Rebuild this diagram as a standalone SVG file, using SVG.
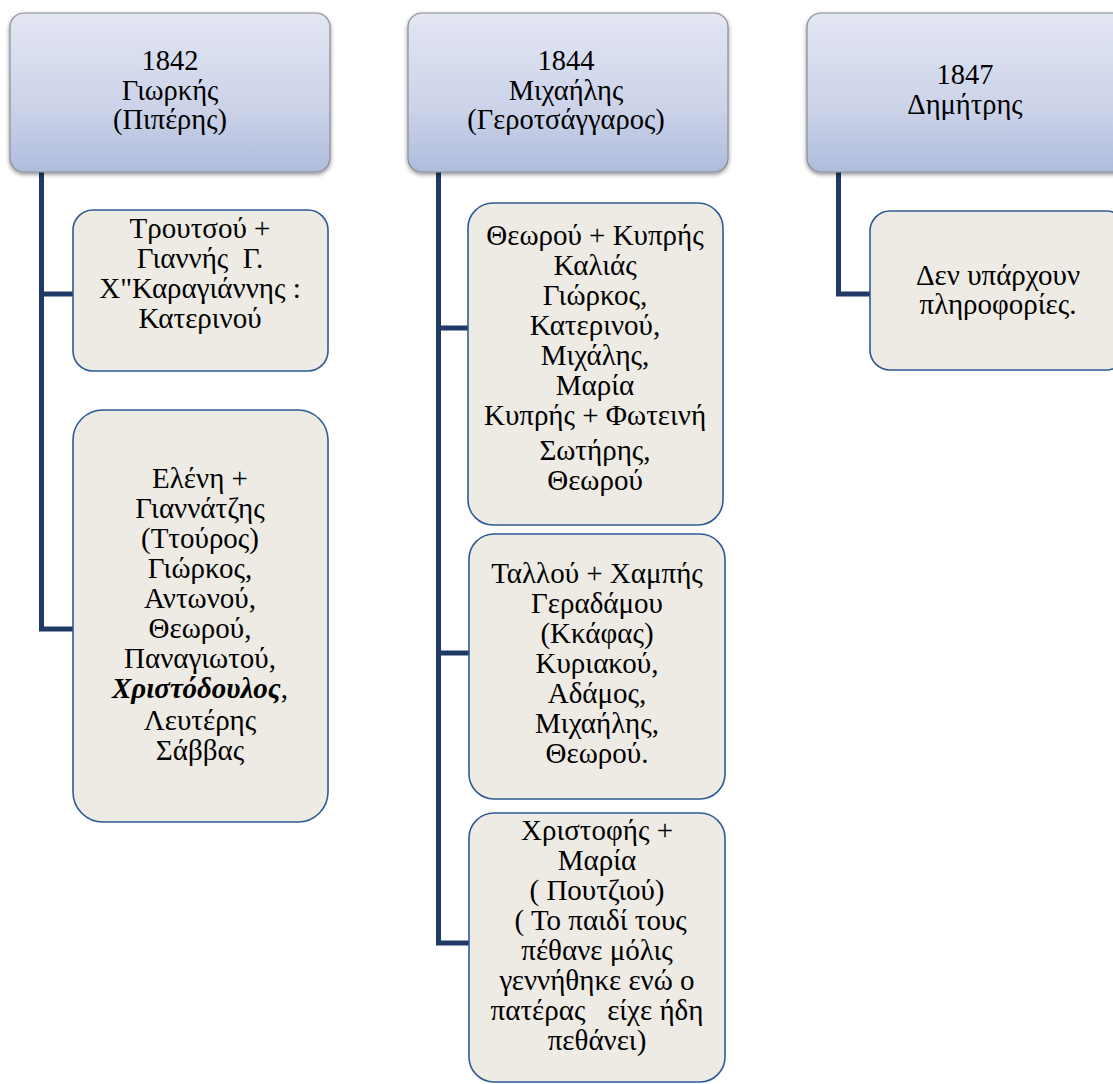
<svg xmlns="http://www.w3.org/2000/svg" width="1113" height="1084" viewBox="0 0 1113 1084">
<defs>
<linearGradient id="hg" x1="0" y1="0" x2="0" y2="1">
<stop offset="0" stop-color="#e3e6f3"/>
<stop offset="0.6" stop-color="#ccd3e9"/>
<stop offset="1" stop-color="#aebcdc"/>
</linearGradient>
<filter id="sh" x="-10%" y="-10%" width="120%" height="125%">
<feGaussianBlur in="SourceAlpha" stdDeviation="2"/>
<feOffset dx="0" dy="2" result="b"/>
<feComponentTransfer><feFuncA type="linear" slope="0.45"/></feComponentTransfer>
<feMerge><feMergeNode/><feMergeNode in="SourceGraphic"/></feMerge>
</filter>
</defs>
<style>
.hdr{fill:url(#hg);stroke:#8a8c94;stroke-width:1.2;filter:url(#sh)}
.box{fill:#edebe4;stroke:#2e5a94;stroke-width:1.6}
.con{fill:none;stroke:#1f3a66;stroke-width:5;stroke-linejoin:miter}
text{font-family:"Liberation Serif","DejaVu Serif",serif;fill:#000;text-anchor:middle}
.ht{font-size:28.5px}
.bt{font-size:29px}
</style>
<rect width="1113" height="1084" fill="#fff"/>
<g id="connectors">
<path class="con" d="M41.5 172 V629 H73 M41.5 294 H73"/>
<path class="con" d="M438.5 172 V943 H469 M438.5 328 H469 M438.5 653 H469"/>
<path class="con" d="M838.5 172 V294 H870"/>
</g>
<g id="h1842">
<rect class="hdr" x="10" y="13" width="320" height="159" rx="14"/>
<text class="ht" x="170" y="70">1842</text>
<text class="ht" x="170" y="100">Γιωρκής</text>
<text class="ht" x="170" y="129"> (Πιπέρης)</text>
</g>
<g id="h1844">
<rect class="hdr" x="408" y="13" width="320" height="159" rx="14"/>
<text class="ht" x="566" y="70">1844</text>
<text class="ht" x="566" y="100">Μιχαήλης</text>
<text class="ht" x="566" y="129">(Γεροτσάγγαρος)</text>
</g>
<g id="h1847">
<rect class="hdr" x="807" y="13" width="320" height="159" rx="14"/>
<text class="ht" x="965" y="84">1847</text>
<text class="ht" x="965" y="114">Δημήτρης</text>
</g>
<g id="n1a">
<rect class="box" x="73" y="210" width="255" height="161" rx="20"/>
<text class="bt" x="200" y="238">Τρουτσού +</text>
<text class="bt" x="200" y="268">Γιαννής&#160; Γ.</text>
<text class="bt" x="200" y="298">Χ"Καραγιάννης :</text>
<text class="bt" x="200" y="328">Κατερινού</text>
</g>
<g id="n1b">
<rect class="box" x="73" y="410" width="255" height="412" rx="30"/>
<text class="bt" x="200" y="488">Ελένη +</text>
<text class="bt" x="200" y="518">Γιαννάτζης</text>
<text class="bt" x="200" y="548">(Ττούρος)</text>
<text class="bt" x="200" y="578">Γιώρκος,</text>
<text class="bt" x="200" y="608">Αντωνού,</text>
<text class="bt" x="200" y="638">Θεωρού,</text>
<text class="bt" x="200" y="668">Παναγιωτού,</text>
<text class="bt" x="200" y="698"><tspan font-weight="bold" font-style="italic">Χριστόδουλος</tspan>,</text>
<text class="bt" x="200" y="730">Λευτέρης</text>
<text class="bt" x="200" y="760">Σάββας</text>
</g>
<g id="n2a">
<rect class="box" x="468" y="203" width="255" height="322" rx="25"/>
<text class="bt" x="595" y="245">Θεωρού + Κυπρής</text>
<text class="bt" x="595" y="275">Καλιάς</text>
<text class="bt" x="595" y="305">Γιώρκος,</text>
<text class="bt" x="595" y="335">Κατερινού,</text>
<text class="bt" x="595" y="365">Μιχάλης,</text>
<text class="bt" x="595" y="395">Μαρία</text>
<text class="bt" x="595" y="425">Κυπρής + Φωτεινή</text>
<text class="bt" x="595" y="460">Σωτήρης,</text>
<text class="bt" x="595" y="490">Θεωρού</text>
</g>
<g id="n2b">
<rect class="box" x="469" y="534" width="256" height="265" rx="25"/>
<text class="bt" x="597" y="583">Ταλλού + Χαμπής</text>
<text class="bt" x="597" y="613">Γεραδάμου</text>
<text class="bt" x="597" y="643"> (Κκάφας)</text>
<text class="bt" x="597" y="673">Κυριακού,</text>
<text class="bt" x="597" y="703">Αδάμος,</text>
<text class="bt" x="597" y="733">Μιχαήλης,</text>
<text class="bt" x="597" y="763">Θεωρού.</text>
</g>
<g id="n2c">
<rect class="box" x="469" y="813" width="256" height="269" rx="25"/>
<text class="bt" x="597" y="840">Χριστοφής +</text>
<text class="bt" x="597" y="870">Μαρία</text>
<text class="bt" x="597" y="900">( Πουτζιού)</text>
<text class="bt" x="597" y="930">&#160;( Το παιδί τους</text>
<text class="bt" x="597" y="960">πέθανε μόλις</text>
<text class="bt" x="597" y="990">γεννήθηκε ενώ ο</text>
<text class="bt" x="597" y="1020">πατέρας&#160;&#160; είχε ήδη</text>
<text class="bt" x="597" y="1050">πεθάνει)</text>
</g>
<g id="n3a">
<rect class="box" x="870" y="211" width="256" height="159" rx="20"/>
<text class="bt" x="998" y="285">Δεν υπάρχουν</text>
<text class="bt" x="998" y="314">πληροφορίες.</text>
</g>
</svg>
